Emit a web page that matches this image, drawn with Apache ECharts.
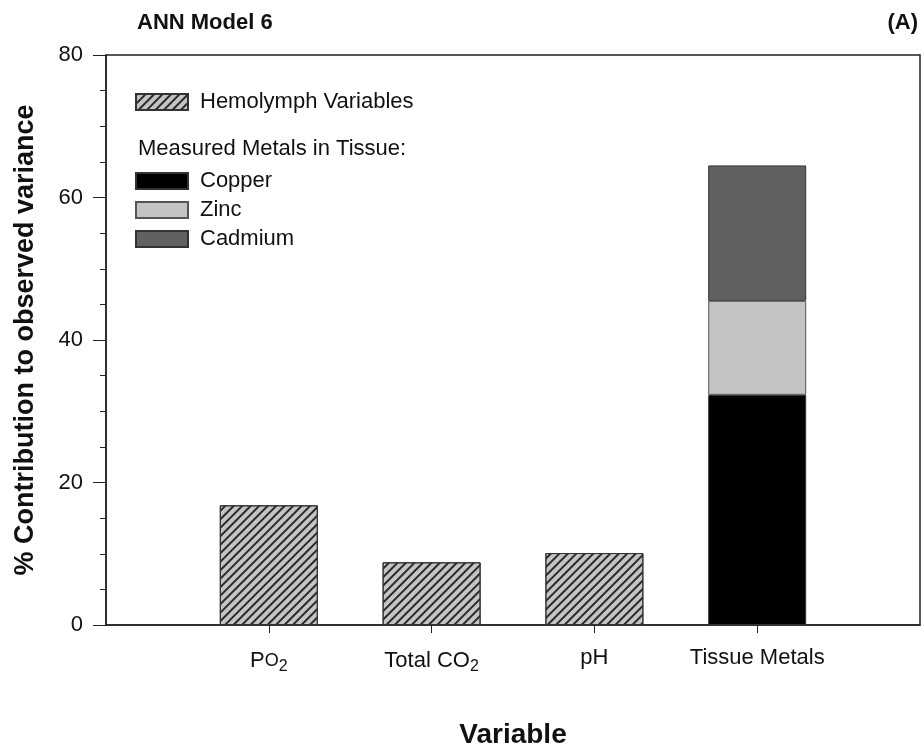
<!DOCTYPE html>
<html><head><meta charset="utf-8">
<script src="https://cdn.jsdelivr.net/npm/echarts@6/dist/echarts.min.js"></script>
<style>html,body{margin:0;padding:0;background:#fff}#c{width:924px;height:750px}</style>
</head><body><div id="c"></div>
<script>
// categories (blank slots at both ends give the axis its padding)
var categories = ['', 'Po2', 'Total CO2', 'pH', 'Tissue Metals', ''];
var hemolymph = ['-', 16.8, 8.8, 10.1, '-', '-'];
var copper    = ['-', '-', '-', '-', 32.3, '-'];
var zinc      = ['-', '-', '-', '-', 13.2, '-'];
var cadmium   = ['-', '-', '-', '-', 19.0, '-'];
var yTicks = [0, 20, 40, 60, 80];

var FONT = 'Liberation Sans, Arial, sans-serif';
var chart = echarts.init(document.getElementById('c'));
var hatch = {
  color: '#2a2a2a',
  dashArrayX: [[1, 0]],
  dashArrayY: [1.2, 3.2],
  rotation: -Math.PI / 4,
  symbolSize: 1
};
function labelFmt(v) {
  if (v === 'Po2') return 'P{s|O}{sub|2}';
  if (v === 'Total CO2') return 'Total CO{sub|2}';
  return v;
}
var option = {
  animation: false,
  backgroundColor: '#fff',
  textStyle: { fontFamily: FONT },
  title: [
    { text: 'ANN Model 6', left: 132, top: 7, textStyle: { fontSize: 22, fontWeight: 'bold', color: '#111', fontFamily: FONT } },
    { text: '(A)', right: 1, top: 7, textStyle: { fontSize: 22, fontWeight: 'bold', color: '#111', fontFamily: FONT } }
  ],
  legend: [
    {
      data: ['Hemolymph Variables'],
      left: 130, top: 86, orient: 'vertical', icon: 'rect',
      itemWidth: 52, itemHeight: 16,
      textStyle: { fontSize: 22, color: '#111', fontFamily: FONT, padding: [0, 0, 0, 7] },
      selectedMode: false
    },
    {
      data: ['Copper', 'Zinc', 'Cadmium'],
      left: 130, top: 165, orient: 'vertical', itemGap: 7, icon: 'rect',
      itemWidth: 52, itemHeight: 16,
      textStyle: { fontSize: 22, color: '#111', fontFamily: FONT, padding: [0, 0, 0, 7] },
      selectedMode: false
    }
  ],
  graphic: [
    { type: 'text', left: 138, top: 138, style: { text: 'Measured Metals in Tissue:', fontSize: 22, fill: '#111', fontFamily: FONT } }
  ],
  grid: { left: 106, right: 4, top: 55, bottom: 125, show: true, borderColor: '#222', borderWidth: 1.5, outerBoundsMode: 'none', containLabel: false },
  xAxis: {
    type: 'category', data: categories, boundaryGap: false,
    name: 'Variable', nameLocation: 'middle', nameGap: 96,
    nameTextStyle: { fontSize: 28, fontWeight: 'bold', color: '#111', fontFamily: FONT },
    axisLine: { lineStyle: { color: '#222', width: 1.5 } },
    axisTick: { show: true, length: 8, lineStyle: { color: '#222' }, interval: function (i) { return i > 0 && i < categories.length - 1; } },
    axisLabel: {
      interval: function (i) { return i > 0 && i < categories.length - 1; },
      margin: 22, fontSize: 22, color: '#111', fontFamily: FONT,
      formatter: labelFmt,
      rich: {
        s: { fontSize: 18, color: '#111', fontFamily: FONT },
        sub: { fontSize: 16, color: '#111', fontFamily: FONT, verticalAlign: 'bottom', padding: [12, 0, 0, 0] }
      }
    },
    splitLine: { show: false }
  },
  yAxis: {
    type: 'value', min: yTicks[0], max: yTicks[yTicks.length - 1], interval: 20,
    name: '% Contribution to observed variance', nameLocation: 'middle', nameGap: 67,
    nameTextStyle: { fontSize: 27, fontWeight: 'bold', color: '#111', fontFamily: FONT },
    axisLine: { show: true, lineStyle: { color: '#222', width: 1.5 } },
    axisTick: { show: true, length: 13, lineStyle: { color: '#222' } },
    minorTick: { show: true, splitNumber: 4, length: 6, lineStyle: { color: '#222' } },
    axisLabel: { margin: 23, fontSize: 22, color: '#111', fontFamily: FONT },
    splitLine: { show: false }
  },
  series: [
    { name: 'Hemolymph Variables', type: 'bar', stack: 'a', data: hemolymph, barWidth: 98,
      itemStyle: { color: '#c4c4c4', borderColor: '#333', borderWidth: 1, decal: hatch } },
    { name: 'Copper', type: 'bar', stack: 'a', data: copper, barWidth: 98,
      itemStyle: { color: '#000000', borderColor: '#333', borderWidth: 1 } },
    { name: 'Zinc', type: 'bar', stack: 'a', data: zinc, barWidth: 98,
      itemStyle: { color: '#c4c4c4', borderColor: '#555', borderWidth: 1 } },
    { name: 'Cadmium', type: 'bar', stack: 'a', data: cadmium, barWidth: 98,
      itemStyle: { color: '#616161', borderColor: '#333', borderWidth: 1 } }
  ]
};
chart.setOption(option);
</script></body></html>
